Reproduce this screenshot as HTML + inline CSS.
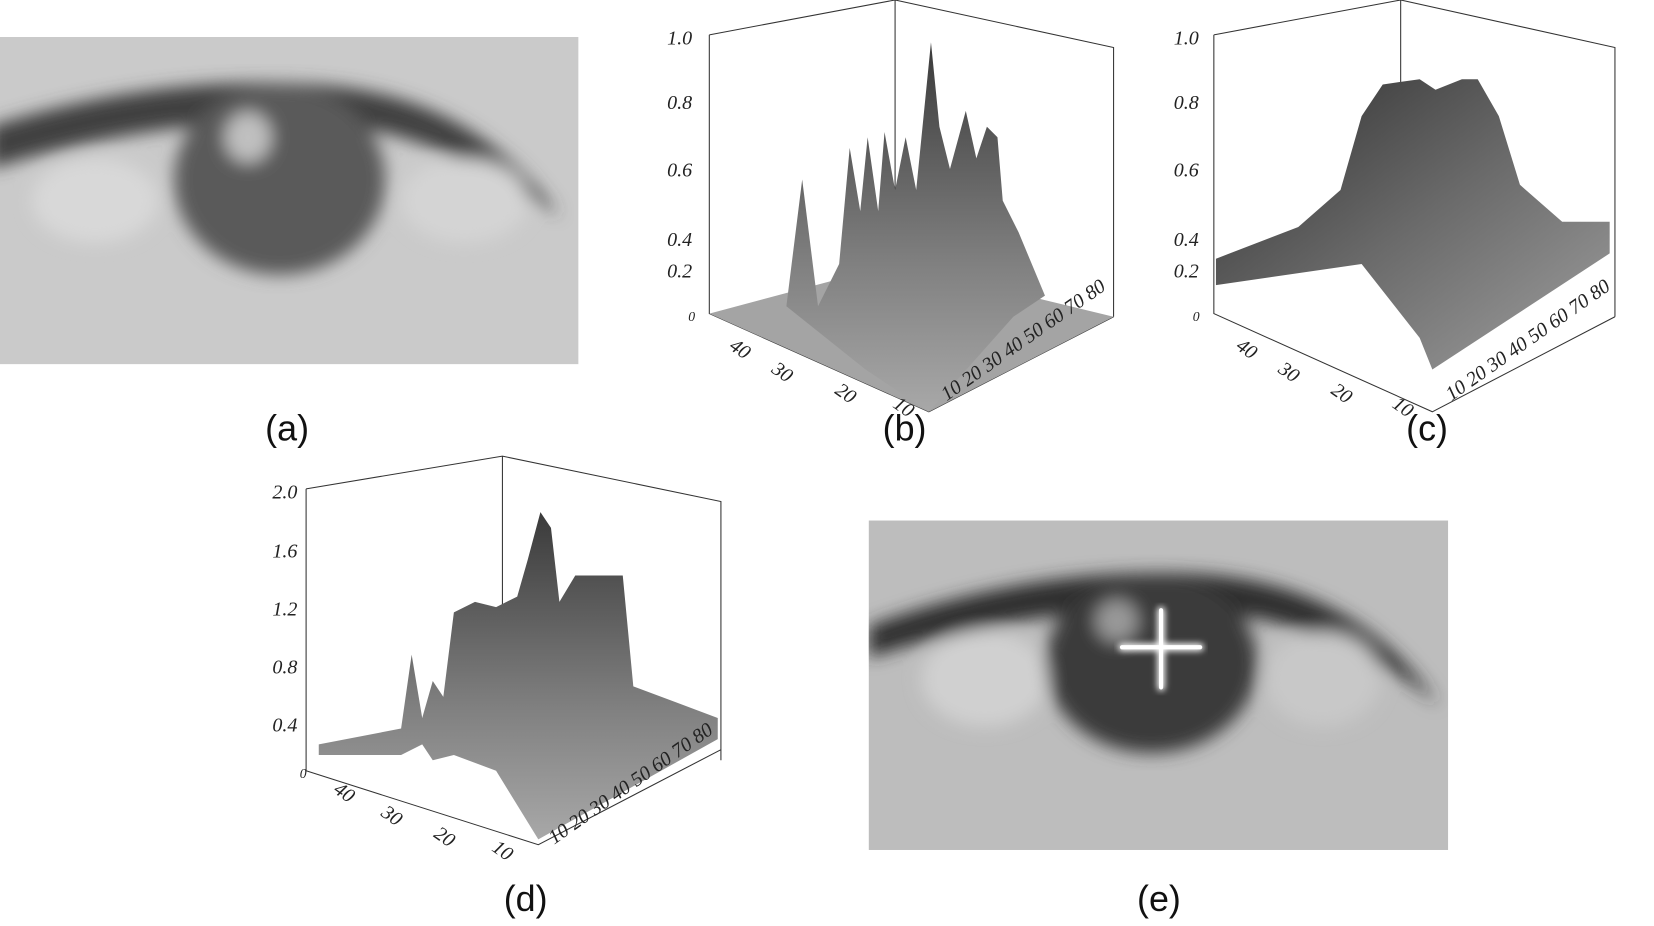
<!DOCTYPE html>
<html><head><meta charset="utf-8"><style>html,body{margin:0;padding:0;background:#fff}svg{display:block}</style></head><body>
<svg width="1654" height="926" viewBox="0 0 1567 877" preserveAspectRatio="none" xmlns="http://www.w3.org/2000/svg">
<defs>
<linearGradient id="srf" x1="0" y1="0" x2="0" y2="1"><stop offset="0" stop-color="#3a3a3a"/><stop offset="0.6" stop-color="#808080"/><stop offset="1" stop-color="#a8a8a8"/></linearGradient>
<linearGradient id="srf2" x1="0" y1="0" x2="1" y2="1"><stop offset="0" stop-color="#2e2e2e"/><stop offset="0.5" stop-color="#6a6a6a"/><stop offset="1" stop-color="#a0a0a0"/></linearGradient>
<filter id="bl"><feGaussianBlur stdDeviation="8"/></filter>
<filter id="bl2"><feGaussianBlur stdDeviation="3"/></filter>
</defs>
<!-- (a) eye -->
<svg x="0" y="35" width="548" height="310" viewBox="0 0 548 310">
<rect width="548" height="310" fill="#cacaca"/>
<g filter="url(#bl)">
<path d="M-10,85 Q150,35 300,45 Q450,55 530,170 Q420,90 300,80 Q150,75 -10,125Z" fill="#404040"/>
<ellipse cx="265" cy="135" rx="100" ry="90" fill="#5a5a5a"/>
<ellipse cx="235" cy="95" rx="22" ry="24" fill="#c0c0c0"/>
<ellipse cx="90" cy="155" rx="60" ry="40" fill="#d8d8d8"/>
<ellipse cx="440" cy="155" rx="60" ry="40" fill="#d4d4d4"/>
</g>
</svg>
<!-- (e) eye -->
<svg x="823" y="493" width="549" height="312" viewBox="0 0 549 312">
<rect width="549" height="312" fill="#bdbdbd"/>
<g filter="url(#bl)">
<path d="M0,100 Q150,45 300,50 Q460,55 540,175 Q440,90 300,85 Q150,80 0,130Z" fill="#2e2e2e"/>
<ellipse cx="268" cy="135" rx="100" ry="85" fill="#3a3a3a"/>
<ellipse cx="235" cy="95" rx="20" ry="20" fill="#999"/>
<ellipse cx="110" cy="150" rx="60" ry="45" fill="#d0d0d0"/>
<ellipse cx="430" cy="150" rx="55" ry="45" fill="#c8c8c8"/>
</g>
<g filter="url(#bl2)" stroke="#fff" stroke-width="7" stroke-linecap="round"><line x1="277" y1="85" x2="277" y2="158"/><line x1="240" y1="120" x2="314" y2="120"/></g>
<g stroke="#fff" stroke-width="4" stroke-linecap="round"><line x1="277" y1="85" x2="277" y2="158"/><line x1="240" y1="120" x2="314" y2="120"/></g>
</svg>

<g font-family="Liberation Serif, serif" font-size="19" font-style="italic" fill="#222">
<!-- (b) -->
<g stroke="#333" stroke-width="1" fill="none">
<path d="M672,33 L848,0 L1055,45 L1055,300 M848,0 L848,230 M672,33 L672,297 L880,390 L1055,300"/>
</g>
<polygon points="672,297 848,250 1055,300 880,390" fill="#a4a4a4"/>
<polygon points="745,290 760,170 775,290 795,250 805,140 815,200 822,130 832,200 838,125 848,180 858,130 868,180 875,110 882,40 890,120 900,160 915,105 925,150 935,120 945,130 950,190 965,220 990,280 960,300 880,390 820,350" fill="url(#srf)"/>
<text x="632" y="42">1.0</text><text x="632" y="103">0.8</text><text x="632" y="167">0.6</text><text x="632" y="233">0.4</text><text x="632" y="263">0.2</text><text x="652" y="304" font-size="13">0</text>
<text x="690" y="330" transform="rotate(35 690 330)">40</text><text x="730" y="352" transform="rotate(35 730 352)">30</text><text x="790" y="372" transform="rotate(35 790 372)">20</text><text x="845" y="385" transform="rotate(35 845 385)">10</text>
<text x="897" y="380" transform="rotate(-35 897 380)">10 20 30 40 50 60 70 80</text>
<!-- (c) -->
<g stroke="#333" stroke-width="1" fill="none">
<path d="M1150,33 L1327,0 L1530,45 L1530,300 M1327,0 L1327,230 M1150,33 L1150,297 L1357,390 L1530,300"/>
</g>
<polygon points="1152,245 1230,215 1270,180 1290,110 1310,80 1345,75 1360,85 1385,75 1400,75 1420,110 1440,175 1480,210 1525,210 1525,240 1357,350 1345,320 1290,250 1152,270" fill="url(#srf2)"/>
<text x="1112" y="42">1.0</text><text x="1112" y="103">0.8</text><text x="1112" y="167">0.6</text><text x="1112" y="233">0.4</text><text x="1112" y="263">0.2</text><text x="1130" y="304" font-size="13">0</text>
<text x="1170" y="330" transform="rotate(35 1170 330)">40</text><text x="1210" y="352" transform="rotate(35 1210 352)">30</text><text x="1260" y="372" transform="rotate(35 1260 372)">20</text><text x="1318" y="385" transform="rotate(35 1318 385)">10</text>
<text x="1375" y="380" transform="rotate(-35 1375 380)">10 20 30 40 50 60 70 80</text>
<!-- (d) -->
<g stroke="#333" stroke-width="1" fill="none">
<path d="M290,463 L476,432 L683,475 L683,720 M476,432 L476,650 M290,463 L290,730 L510,800 L683,710"/>
</g>
<polygon points="302,705 380,690 390,620 400,680 410,645 420,660 430,580 440,575 450,570 470,575 490,565 500,530 512,485 522,500 530,570 545,545 575,545 590,545 600,650 640,665 680,680 680,700 510,795 470,730 430,715 410,720 400,705 380,715 302,715" fill="url(#srf)"/>
<text x="258" y="472">2.0</text><text x="258" y="528">1.6</text><text x="258" y="583">1.2</text><text x="258" y="638">0.8</text><text x="258" y="693">0.4</text><text x="284" y="737" font-size="13">0</text>
<text x="315" y="750" transform="rotate(35 315 750)">40</text><text x="360" y="772" transform="rotate(35 360 772)">30</text><text x="410" y="792" transform="rotate(35 410 792)">20</text><text x="465" y="805" transform="rotate(35 465 805)">10</text>
<text x="525" y="800" transform="rotate(-35 525 800)">10 20 30 40 50 60 70 80</text>
</g>
<g font-family="Liberation Sans, sans-serif" font-size="34" fill="#111" text-anchor="middle">
<text x="272" y="417">(a)</text><text x="857" y="417">(b)</text><text x="1352" y="417">(c)</text><text x="498" y="863">(d)</text><text x="1098" y="863">(e)</text>
</g>
</svg>
</body></html>
